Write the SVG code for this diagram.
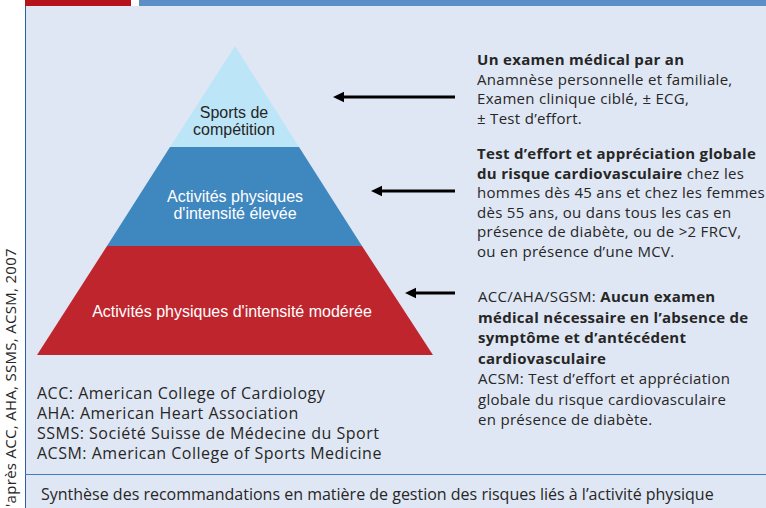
<svg xmlns="http://www.w3.org/2000/svg" width="766" height="508" viewBox="0 0 766 508">
<style>
.txt{font-family:"Open Sans",sans-serif;fill:#262626}
.r{font-size:15px;letter-spacing:0.3px}
.b{font-weight:bold}
.pw{font-family:"Liberation Sans",Arial,sans-serif;font-size:16px;fill:#ffffff;text-anchor:middle}
.pd{font-family:"Liberation Sans",Arial,sans-serif;font-size:16px;fill:#262626;text-anchor:middle}
.leg{font-family:"Open Sans",sans-serif;font-size:16px;letter-spacing:0.5px;fill:#262626}
.arr{stroke:#000;stroke-width:3;fill:none}
</style>
<defs>
<marker id="ah" markerUnits="userSpaceOnUse" markerWidth="13" markerHeight="12" refX="2" refY="6" orient="auto">
<path d="M0,0.8 L11,6 L0,11.2 Z" fill="#000"/>
</marker>
</defs>
<rect x="0" y="0" width="766" height="508" fill="#ffffff"/>
<rect x="25" y="0" width="106" height="6" fill="#B5121B"/>
<rect x="139" y="0" width="627" height="6" fill="#5B8FC6"/>
<rect x="25" y="6" width="741" height="502" fill="#E0E7F4"/>
<line x1="25.5" y1="6" x2="25.5" y2="508" stroke="#2F5F9F" stroke-width="1"/>
<line x1="25" y1="474.5" x2="766" y2="474.5" stroke="#3F7FBF" stroke-width="1.2"/>

<g id="tier-top">
<polygon points="235,46 170,147 299,147" fill="#BDE5F8"/>
<text class="pd" x="234" y="118">Sports de</text>
<text class="pd" x="234" y="135">compétition</text>
</g>
<g id="tier-middle">
<polygon points="170,147 299,147 362,246 107,246" fill="#3F87BF"/>
<text class="pw" x="235" y="202">Activités physiques</text>
<text class="pw" x="235" y="219">d'intensité élevée</text>
</g>
<g id="tier-bottom">
<polygon points="107,246 362,246 433,355 37,355" fill="#BF252D"/>
<text class="pw" x="232" y="317">Activités physiques d'intensité modérée</text>
</g>

<g id="connectors">
<path class="arr" d="M455,97 L342,97" marker-end="url(#ah)"/>
<path class="arr" d="M455,191 L380,191" marker-end="url(#ah)"/>
<path class="arr" d="M455,293 L414,293" marker-end="url(#ah)"/>
</g>

<g id="note-top">
<text class="txt r b" x="477" y="65">Un examen médical par an</text>
<text class="txt r" x="477" y="84.5">Anamnèse personnelle et familiale,</text>
<text class="txt r" x="477" y="104">Examen clinique ciblé, ± ECG,</text>
<text class="txt r" x="477" y="123.5">± Test d’effort.</text>
</g>
<g id="note-middle">
<text class="txt r b" x="477" y="159">Test d’effort et appréciation globale</text>
<text class="txt r" x="477" y="178.5"><tspan class="b">du risque cardiovasculaire</tspan> chez les</text>
<text class="txt r" x="477" y="198">hommes dès 45 ans et chez les femmes</text>
<text class="txt r" x="477" y="217.5">dès 55 ans, ou dans tous les cas en</text>
<text class="txt r" x="477" y="237">présence de diabète, ou de &gt;2 FRCV,</text>
<text class="txt r" x="477" y="256.5">ou en présence d’une MCV.</text>
</g>
<g id="note-bottom">
<text class="txt r" x="478" y="302">ACC/AHA/SGSM: <tspan class="b">Aucun examen</tspan></text>
<text class="txt r b" x="478" y="322.5">médical nécessaire en l’absence de</text>
<text class="txt r b" x="478" y="343">symptôme et d’antécédent</text>
<text class="txt r b" x="478" y="363.5">cardiovasculaire</text>
<text class="txt r" x="478" y="384">ACSM: Test d’effort et appréciation</text>
<text class="txt r" x="478" y="404.5">globale du risque cardiovasculaire</text>
<text class="txt r" x="478" y="425">en présence de diabète.</text>
</g>

<g id="legend">
<text class="leg" x="37" y="399">ACC: American College of Cardiology</text>
<text class="leg" x="37" y="419">AHA: American Heart Association</text>
<text class="leg" x="37" y="439">SSMS: Société Suisse de Médecine du Sport</text>
<text class="leg" x="37" y="459">ACSM: American College of Sports Medicine</text>
</g>

<text class="txt" style="font-size:15px;letter-spacing:0.3px" transform="translate(15.5,507) rotate(-90)">'après ACC, AHA, SSMS, ACSM, 2007</text>
<text class="txt" style="font-size:16px" x="41" y="500">Synthèse des recommandations en matière de gestion des risques liés à l’activité physique</text>
</svg>
